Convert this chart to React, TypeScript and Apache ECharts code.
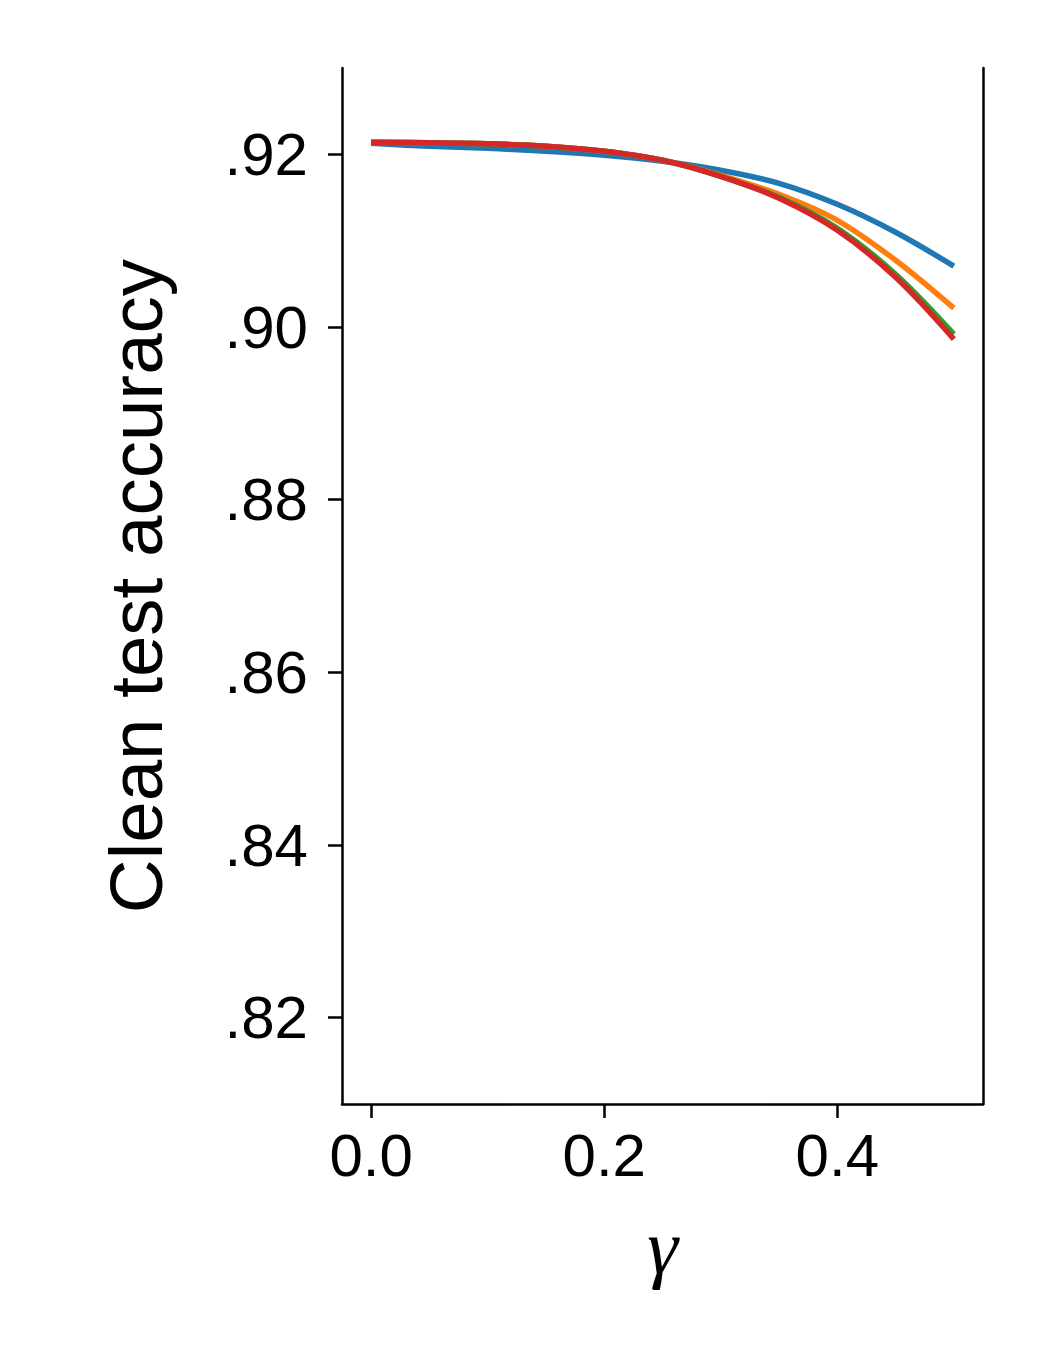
import React, { useEffect, useRef } from "react";
import * as echarts from "echarts";

const gammas = [0, 0.05, 0.1, 0.15, 0.2, 0.25, 0.3, 0.35, 0.4, 0.45, 0.5];
const seriesBlue = [0.92127, 0.92093, 0.92069, 0.92035, 0.91988, 0.91919, 0.91815, 0.91664, 0.91421, 0.91097, 0.90704];
const seriesOrange = [0.92139, 0.92133, 0.92122, 0.92093, 0.92035, 0.91931, 0.91757, 0.91537, 0.91236, 0.90773, 0.90218];
const seriesGreen = [0.92139, 0.92133, 0.92122, 0.92093, 0.92035, 0.91931, 0.91745, 0.91502, 0.91144, 0.90611, 0.89917];
const seriesRed = [0.92139, 0.92133, 0.92122, 0.92093, 0.92035, 0.91931, 0.91745, 0.91491, 0.9112, 0.90576, 0.89859];
const yTicks = [0.82, 0.84, 0.86, 0.88, 0.9, 0.92];
const xTicks = [0, 0.2, 0.4];
const colors = ["#1f77b4", "#ff7f0e", "#2ca02c", "#d62728"];

const FONT = "'Liberation Sans', Arial, Helvetica, sans-serif";

export default function App() {
  const ref = useRef<HTMLDivElement>(null);
  useEffect(() => {
    document.body.style.margin = "0";
    const chart = echarts.init(ref.current!, null, { renderer: "svg" });
    const all = [seriesBlue, seriesOrange, seriesGreen, seriesRed];
    chart.setOption({
      animation: false,
      grid: { left: 342, right: 67, top: 68, bottom: 246 },
      xAxis: {
        type: "value",
        min: -0.025,
        max: 0.525,
        splitLine: { show: false },
        axisLine: { show: true, onZero: false, lineStyle: { color: "#000", width: 2.5 } },
        axisTick: { show: true, length: 14, customValues: xTicks, lineStyle: { color: "#000", width: 2.5 } },
        axisLabel: {
          customValues: xTicks,
          formatter: (v: number) => v.toFixed(1),
          fontSize: 60,
          fontFamily: FONT,
          color: "#000",
          margin: 21,
        },
        name: "γ",
        nameLocation: "middle",
        nameGap: 103,
        nameTextStyle: { fontSize: 78, fontStyle: "italic", fontFamily: "'Liberation Serif', 'DejaVu Serif', serif", color: "#000" },
      },
      yAxis: [
        {
          type: "value",
          min: 0.81,
          max: 0.93,
          splitLine: { show: false },
          axisLine: { show: true, onZero: false, lineStyle: { color: "#000", width: 2.5 } },
          axisTick: { show: true, length: 14, customValues: yTicks, lineStyle: { color: "#000", width: 2.5 } },
          axisLabel: {
            customValues: yTicks,
            formatter: (v: number) => v.toFixed(2).replace(/^0/, ""),
            fontSize: 60,
            fontFamily: FONT,
            color: "#000",
            margin: 34,
          },
          name: "Clean test accuracy",
          nameLocation: "middle",
          nameGap: 168,
          nameRotate: 90,
          nameTextStyle: { fontSize: 74.5, fontFamily: FONT, color: "#000" },
        },
        {
          type: "value",
          position: "right",
          min: 0.81,
          max: 0.93,
          splitLine: { show: false },
          axisLine: { show: true, onZero: false, lineStyle: { color: "#000", width: 2.5 } },
          axisTick: { show: false },
          axisLabel: { show: false },
        },
      ],
      series: all.map((vals, i) => ({
        type: "line",
        data: gammas.map((g, j) => [g, vals[j]]),
        smooth: 0.35,
        showSymbol: false,
        yAxisIndex: 0,
        lineStyle: { color: colors[i], width: 5.5 },
        itemStyle: { color: colors[i] },
        z: 2 + i,
      })),
    });
    return () => chart.dispose();
  }, []);
  return <div ref={ref} style={{ width: 1050, height: 1350, background: "#fff" }} />;
}
